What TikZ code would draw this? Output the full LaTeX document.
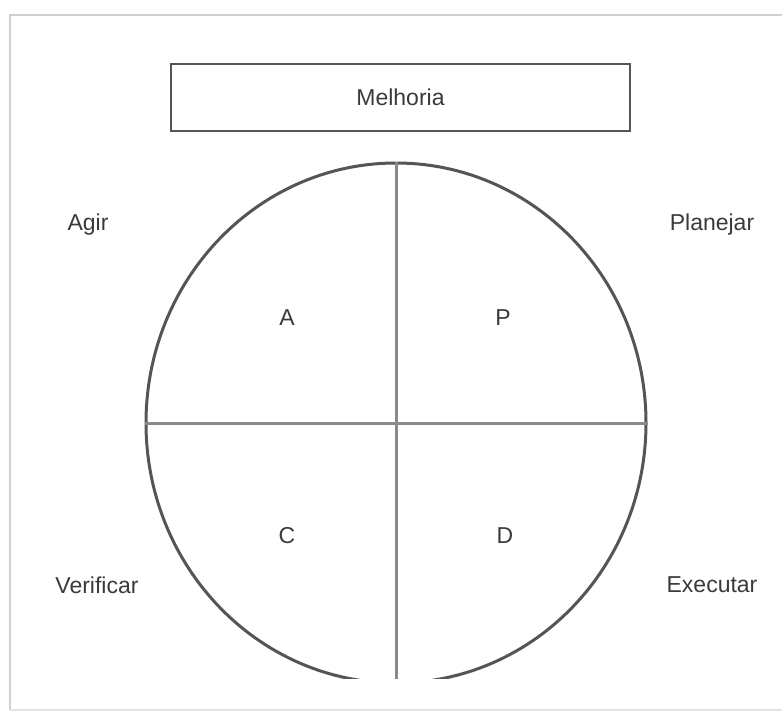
\documentclass[tikz,border=0pt]{standalone}
\usepackage{fontspec}
\setmainfont{Liberation Sans}
\usetikzlibrary{shapes,positioning,calc}
\definecolor{textgray}{HTML}{3A3A3A}
\definecolor{linegray}{HTML}{555555}
\definecolor{crossgray}{HTML}{8A8A8A}
\definecolor{framegray}{HTML}{D0D0D0}
\tikzstyle{titlebox} = [rectangle, draw=linegray, line width=2.5pt, minimum width=459pt, minimum height=67pt, text centered, text=textgray]
\tikzstyle{cycle} = [ellipse, draw=linegray, line width=3pt, minimum width=500pt, minimum height=520pt, inner sep=0pt]
\tikzstyle{stage} = [text=textgray]
\tikzstyle{letter} = [text=textgray]
\tikzstyle{cross} = [draw=crossgray, line width=3pt]

\begin{document}
\begin{tikzpicture}[x=1pt, y=-1pt, font=\fontsize{23}{27}\selectfont]
\useasboundingbox (0,0) rectangle (782,713);

% Moldura
\draw[framegray, line width=2pt] (10,710) -- (10,15) -- (790,15);
\draw[framegray!60, line width=2pt] (10,710) -- (790,710);

% Melhoria
\node[titlebox] (melhoria) at (400.5,97.5) {Melhoria};

% Ciclo PDCA
\begin{scope}
\clip (0,0) rectangle (782,678);
\node[cycle] (pdca) at (396,423) {};
\draw[cross] (pdca.north) -- (pdca.south);
\draw[cross] (pdca.west) -- (pdca.east);
\end{scope}

% Letras dos quadrantes
\node[letter] (a) at (287,318) {A};
\node[letter] (p) at (503,318) {P};
\node[letter] (c) at (287,536) {C};
\node[letter] (d) at (505,536) {D};

% Etapas
\node[stage] (agir) at (88,225) {Agir};
\node[stage] (planejar) at (712,225) {Planejar};
\node[stage] (verificar) at (97,585) {Verificar};
\node[stage] (executar) at (712,585) {Executar};

\end{tikzpicture}
\end{document}
